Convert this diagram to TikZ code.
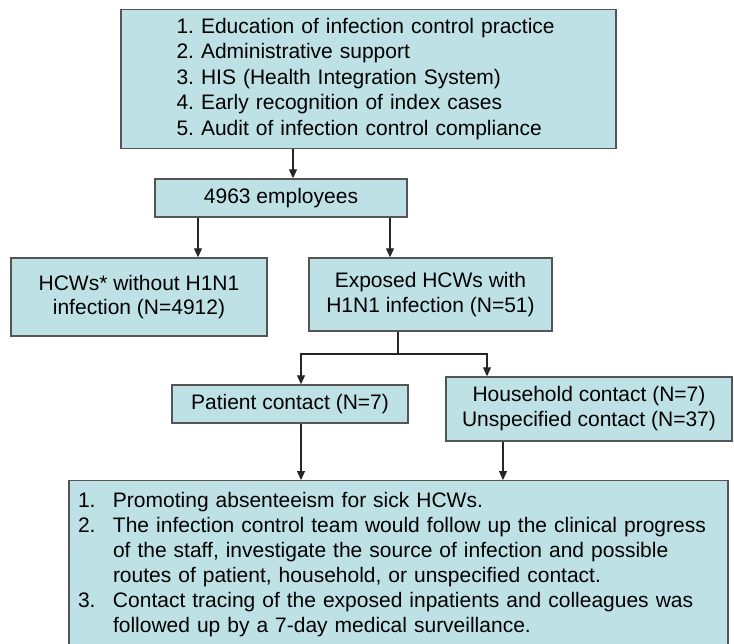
\documentclass[tikz,border=0pt]{standalone}
\usepackage{fontspec}
\setmainfont{Liberation Sans}
\usepackage{xcolor}
\usetikzlibrary{arrows.meta}
\definecolor{boxfill}{RGB}{190,225,230}
\definecolor{boxline}{RGB}{85,85,85}
\tikzset{
  flowbox/.style={draw=boxline, line width=1.4pt, fill=boxfill, inner sep=0pt,
    font=\fontsize{21}{25}\selectfont, align=center},
  flowline/.style={line width=1.1pt, draw=black!85},
  flowarrow/.style={flowline, -{Triangle[length=9pt,width=8pt]}}
}
\newcommand{\numitem}[1]{\makebox[35pt][l]{#1}}
\frenchspacing

\begin{document}
\begin{tikzpicture}[x=1pt,y=-1pt]
\useasboundingbox (0,0) rectangle (734,643);
\clip (0,0) rectangle (734,643);

%%% boxes

% measures
\node[flowbox, minimum width=495pt, minimum height=139pt, text width=384pt, align=left,
  font=\fontsize{21}{25.5}\selectfont] (measures) at (368.5,79)
  {1. Education of infection control practice\\
   2. Administrative support\\
   3. HIS (Health Integration System)\\
   4. Early recognition of index cases\\
   5. Audit of infection control compliance};

% employees
\node[flowbox, minimum width=252pt, minimum height=38pt] (staff) at (281,198) {4963 employees};

% split of the employees
\node[flowbox, minimum width=256pt, minimum height=78pt, font=\fontsize{21}{24}\selectfont]
  (negative) at (139,297) {HCWs* without H1N1\\infection (N=4912)};
\node[flowbox, minimum width=243pt, minimum height=73pt] (exposed) at (430.5,294.5)
  {Exposed HCWs with\\H1N1 infection (N=51)};

% contacts
\node[flowbox, minimum width=236pt, minimum height=38pt] (patient) at (290,404) {Patient contact (N=7)};
\node[flowbox, minimum width=286pt, minimum height=64pt] (household) at (589,409)
  {Household contact (N=7)\\Unspecified contact (N=37)};

% actions
\node[flowbox, anchor=north, minimum width=659pt, text width=641pt, inner xsep=9pt, inner ysep=12pt,
  align=left] (actions) at (398.5,480)
  {\numitem{1.}Promoting absenteeism for sick HCWs.\\
   \numitem{2.}The infection control team would follow up the clinical progress\\
   \hspace*{35pt}of the staff, investigate the source of infection and possible\\
   \hspace*{35pt}routes of patient, household, or unspecified contact.\\
   \numitem{3.}Contact tracing of the exposed inpatients and colleagues was\\
   \hspace*{35pt}followed up by a 7-day medical surveillance.};

%%% links

\draw[flowarrow] ([xshift=-75.5pt]measures.south) -- ([xshift=12pt]staff.north);
\draw[flowarrow] ([xshift=-83pt]staff.south) -- ([xshift=59pt]negative.north);
\draw[flowarrow] ([xshift=109pt]staff.south) -- ([xshift=-40.5pt]exposed.north);

\coordinate (split) at (398,354);
\draw[flowline] ([xshift=-32.5pt]exposed.south) -- (split);
\draw[flowarrow] (split) -| ([xshift=11pt]patient.north);
\draw[flowarrow] (split) -| ([xshift=-102pt]household.north);

\draw[flowarrow] ([xshift=11pt]patient.south) -- ([xshift=-97.5pt]actions.north);
\draw[flowarrow] ([xshift=-86pt]household.south) -- ([xshift=104.5pt]actions.north);
\end{tikzpicture}
\end{document}
